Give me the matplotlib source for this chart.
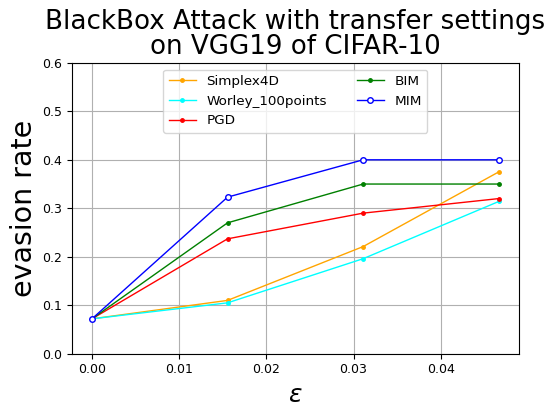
import matplotlib
matplotlib.use("Agg")
import matplotlib.pyplot as plt

eps = [0.0, 0.01555, 0.0311, 0.04665]
simplex4d = [0.072, 0.110, 0.221, 0.375]
worley = [0.072, 0.105, 0.196, 0.314]
pgd = [0.072, 0.237, 0.290, 0.320]
bim = [0.072, 0.270, 0.350, 0.350]
mim = [0.072, 0.323, 0.400, 0.400]

labels = ["Simplex4D", "Worley_100points", "PGD", "BIM", "MIM"]
title_line1 = "BlackBox Attack with transfer settings"
title_line2 = "on VGG19 of CIFAR-10"

fig = plt.figure(figsize=(5.51, 4.08), dpi=100)
ax = fig.add_axes([0.130, 0.133, 0.812, 0.713])

ax.plot(eps, simplex4d, color="orange", marker=".", lw=1, ms=5, label=labels[0])
ax.plot(eps, worley, color="cyan", marker=".", lw=1, ms=5, label=labels[1])
ax.plot(eps, pgd, color="red", marker=".", lw=1, ms=5, label=labels[2])
ax.plot(eps, bim, color="green", marker=".", lw=1, ms=5, label=labels[3])
ax.plot(eps, mim, color="blue", marker="o", mfc="white", lw=1, ms=4, label=labels[4])

ax.set_ylim(0, 0.6)
ax.set_xticks([0.0, 0.01, 0.02, 0.03, 0.04])
ax.tick_params(labelsize=9)
ax.grid(True)
# two-line title, drawn as two centred lines
ax.set_title(title_line2, fontsize=18.8, pad=6.5)
ax.annotate(title_line1, xy=(0.5, 1.0), xycoords="axes fraction",
            xytext=(0, 24.5), textcoords="offset points",
            ha="center", va="baseline", fontsize=18.8)
ax.set_ylabel("evasion rate", fontsize=20.5, labelpad=3)
ax.set_xlabel(r"$\epsilon$", fontsize=18, labelpad=5)
ax.legend(loc="upper center", ncol=2, fontsize=9.7, columnspacing=2.2)

fig.savefig("out.png", dpi=100)
